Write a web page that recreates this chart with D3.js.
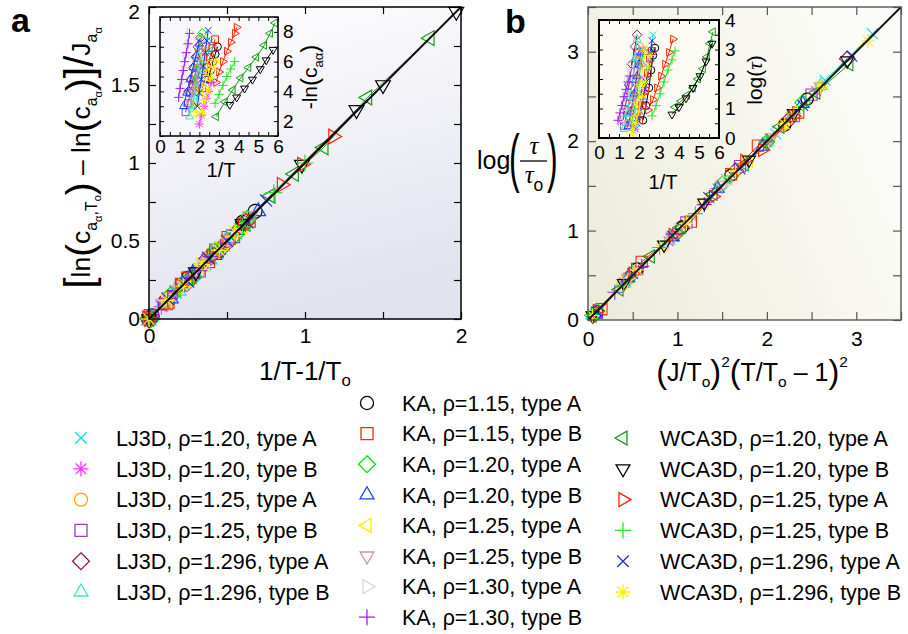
<!DOCTYPE html>
<html>
<head>
<meta charset="utf-8">
<script src="https://cdn.jsdelivr.net/npm/d3@7/dist/d3.min.js"></script>
<style>
  body { margin: 0; background: #fff; }
  svg { display: block; }
  text { font-family: "Liberation Sans", Arial, Helvetica, sans-serif; }
</style>
</head>
<body>
<svg id="fig" width="908" height="634"></svg>
<script>
// ---- series definitions -------------------------------------------------
const seriesNames = [
  "LJ3D, ρ=1.20, type A", "LJ3D, ρ=1.20, type B", "LJ3D, ρ=1.25, type A",
  "LJ3D, ρ=1.25, type B", "LJ3D, ρ=1.296, type A", "LJ3D, ρ=1.296, type B",
  "KA, ρ=1.15, type A", "KA, ρ=1.15, type B", "KA, ρ=1.20, type A",
  "KA, ρ=1.20, type B", "KA, ρ=1.25, type A", "KA, ρ=1.25, type B",
  "KA, ρ=1.30, type A", "KA, ρ=1.30, type B",
  "WCA3D, ρ=1.20, type A", "WCA3D, ρ=1.20, type B", "WCA3D, ρ=1.25, type A",
  "WCA3D, ρ=1.25, type B", "WCA3D, ρ=1.296, type A", "WCA3D, ρ=1.296, type B"
];
const seriesColors = [
  "#00e0e8", "#ff33ff", "#ffa500", "#9040c8", "#8b1c62", "#40e0d0",
  "#000000", "#ff2a00", "#00e600", "#1f3cff", "#ffec00", "#c49a9a",
  "#d8d8d8", "#a020f0",
  "#1a9a1a", "#000000", "#ff2200", "#22e622", "#2030e0", "#ffec00"
];
const seriesSymbols = [
  "x", "asterisk", "circle", "square", "diamond", "triUp",
  "circle", "square", "diamond", "triUp", "triLeft", "triDown",
  "triRight", "plus",
  "triLeft", "triDown", "triRight", "plus", "x", "asterisk"
];
const legendColumns = [
  [0, 1, 2, 3, 4, 5],
  [6, 7, 8, 9, 10, 11, 12, 13],
  [14, 15, 16, 17, 18, 19]
];

// ---- panel a inset: [1/T, -ln(c)] -----------------------------------------
const cInset = [
  [[1.75,2.8],[1.9,3.6],[2.05,4.4],[2.2,5.2],[2.35,6.0],[2.5,6.8],[2.6,7.4]],
  [[2.0,1.8],[2.12,2.4],[2.24,3.0],[2.36,3.5],[2.48,4.0],[2.6,4.6]],
  [[1.55,3.2],[1.7,4.0],[1.85,4.8],[2.0,5.6],[2.15,6.3],[2.3,7.0]],
  [[1.3,2.6],[1.42,3.2],[1.54,3.9],[1.66,4.5],[1.78,5.1],[1.9,5.8]],
  [[1.45,4.0],[1.57,4.8],[1.69,5.6],[1.81,6.3],[1.93,7.0],[2.05,7.6]],
  [[1.5,2.3],[1.62,3.0],[1.74,3.7],[1.86,4.4],[1.98,5.1],[2.1,5.7]],
  [[2.45,4.8],[2.57,5.4],[2.69,6.0],[2.81,6.5],[2.93,7.0]],
  [[2.15,4.2],[2.28,4.9],[2.41,5.6],[2.54,6.3],[2.67,6.9],[2.8,7.5]],
  [[1.7,4.4],[1.8,5.2],[1.9,6.0],[2.0,6.8],[2.1,7.5],[2.15,7.9]],
  [[1.2,3.0],[1.36,3.9],[1.52,4.8],[1.68,5.6],[1.84,6.4],[2.0,7.2]],
  [[1.75,2.5],[1.9,3.2],[2.05,3.9],[2.2,4.6],[2.35,5.3],[2.5,5.9]],
  [[1.55,3.2],[1.68,4.0],[1.81,4.8],[1.94,5.6],[2.07,6.4],[2.2,7.1]],
  [[1.1,4.6],[1.2,5.5],[1.3,6.4],[1.4,7.2],[1.5,8.0]],
  [[0.95,3.6],[1.02,4.2],[1.1,4.8],[1.18,5.4],[1.26,6.0],[1.34,6.6],[1.42,7.2],[1.5,7.9]],
  [[2.85,2.3],[3.3,3.3],[3.7,4.1],[4.1,4.9],[4.5,5.6],[4.9,6.3],[5.3,7.1],[5.6,7.9],[5.85,8.6]],
  [[3.55,3.1],[3.9,3.6],[4.3,4.2],[4.7,4.8],[5.1,5.5],[5.4,6.1],[5.75,6.8]],
  [[2.85,4.6],[3.0,5.3],[3.2,6.0],[3.4,6.7],[3.6,7.3],[3.8,7.9],[3.9,8.3]],
  [[2.8,3.2],[3.0,3.8],[3.2,4.4],[3.4,5.0],[3.6,5.5],[3.8,6.0]],
  [[1.9,3.0],[2.0,3.9],[2.1,4.8],[2.2,5.7],[2.3,6.6],[2.38,7.4],[2.45,8.1]],
  [[2.15,2.6],[2.3,3.4],[2.45,4.1],[2.6,4.9],[2.75,5.6],[2.85,6.1]]
];

// ---- panel a main: [1/T - 1/To, scaled concentration] --------------------
const cScaled = [
  [[0,0],[0.08,0.09],[0.17,0.17],[0.26,0.27],[0.36,0.35],[0.46,0.46],[0.56,0.55]],
  [[0,0.01],[0.08,0.08],[0.17,0.18],[0.27,0.26],[0.37,0.38],[0.48,0.47]],
  [[0,0],[0.1,0.1],[0.2,0.21],[0.31,0.3],[0.42,0.43],[0.53,0.52]],
  [[0.01,0.02],[0.11,0.1],[0.21,0.22],[0.32,0.31],[0.43,0.44],[0.54,0.53]],
  [[0,0],[0.12,0.13],[0.25,0.24],[0.37,0.38],[0.5,0.49],[0.62,0.62]],
  [[0,-0.01],[0.09,0.1],[0.19,0.18],[0.29,0.3],[0.39,0.38],[0.49,0.5]],
  [[0.02,0.02],[0.25,0.26],[0.45,0.44],[0.6,0.62],[0.68,0.69]],
  [[0,0.01],[0.12,0.11],[0.25,0.26],[0.38,0.37],[0.51,0.52],[0.64,0.63]],
  [[0.01,0],[0.14,0.15],[0.28,0.27],[0.42,0.43],[0.56,0.55],[0.63,0.64]],
  [[0,0.01],[0.14,0.13],[0.28,0.29],[0.42,0.41],[0.56,0.57],[0.7,0.69]],
  [[0,0],[0.12,0.12],[0.24,0.25],[0.36,0.35],[0.48,0.49],[0.6,0.59]],
  [[0.01,0.01],[0.13,0.14],[0.26,0.25],[0.39,0.4],[0.52,0.51],[0.65,0.66]],
  [[0,0],[0.11,0.12],[0.22,0.21],[0.33,0.34],[0.44,0.43]],
  [[0,0.01],[0.06,0.06],[0.12,0.13],[0.18,0.18],[0.25,0.26],[0.32,0.31],[0.39,0.4],[0.46,0.46]],
  [[0,0],[0.25,0.26],[0.45,0.44],[0.62,0.61],[0.78,0.79],[0.93,0.93],[1.12,1.1],[1.4,1.42],[1.8,1.8]],
  [[0,0],[0.3,0.3],[0.6,0.61],[0.98,0.99],[1.33,1.34],[1.5,1.5],[1.97,1.97]],
  [[0,0],[0.2,0.21],[0.4,0.4],[0.6,0.6],[0.85,0.86],[0.98,0.99],[1.18,1.17]],
  [[0,0],[0.2,0.19],[0.4,0.41],[0.6,0.59],[0.8,0.81],[1.0,1.0]],
  [[0,0],[0.12,0.13],[0.25,0.24],[0.38,0.39],[0.5,0.5],[0.63,0.62],[0.75,0.76]],
  [[0,0],[0.11,0.12],[0.22,0.21],[0.34,0.35],[0.45,0.44],[0.55,0.56]]
];

// ---- panel b inset: [1/T, log(tau)] ---------------------------------------
const tauInset = [
  [[1.85,0.3],[2.0,0.75],[2.15,1.25],[2.3,1.8],[2.45,2.35],[2.6,2.95],[2.7,3.5]],
  [[1.8,0.3],[1.95,0.7],[2.1,1.15],[2.25,1.6],[2.4,2.1],[2.55,2.6]],
  [[1.55,0.5],[1.65,0.95],[1.75,1.45],[1.85,2.0],[1.95,2.6],[2.05,3.1]],
  [[1.25,0.4],[1.4,0.9],[1.55,1.4],[1.7,2.0],[1.8,2.5],[1.9,2.9]],
  [[1.2,0.6],[1.35,1.2],[1.5,1.8],[1.65,2.5],[1.8,3.1],[1.9,3.5]],
  [[1.25,0.3],[1.4,0.8],[1.55,1.4],[1.68,2.0],[1.8,2.7],[1.9,3.35]],
  [[2.2,0.6],[2.35,1.1],[2.5,1.7],[2.6,2.3],[2.7,2.8],[2.8,3.05]],
  [[2.0,0.6],[2.15,1.1],[2.3,1.6],[2.45,2.2],[2.55,2.7],[2.65,2.95]],
  [[1.6,0.4],[1.75,0.9],[1.9,1.5],[2.0,2.0],[2.1,2.5],[2.2,2.9]],
  [[1.45,0.4],[1.6,0.9],[1.75,1.5],[1.9,2.1],[2.0,2.5],[2.1,2.9]],
  [[1.6,0.2],[1.75,0.7],[1.9,1.2],[2.05,1.8],[2.2,2.4],[2.3,3.0]],
  [[1.5,0.4],[1.65,0.9],[1.8,1.4],[1.95,2.0],[2.05,2.5],[2.15,3.0]],
  [[1.1,0.5],[1.2,1.0],[1.3,1.5],[1.4,2.0],[1.5,2.4]],
  [[0.95,0.6],[1.05,0.85],[1.15,1.1],[1.25,1.4],[1.35,1.65],[1.45,1.9],[1.55,2.1]],
  [[3.8,1.05],[4.1,1.25],[4.4,1.45],[4.7,1.7],[4.95,2.0],[5.2,2.35],[5.4,2.75],[5.55,3.2],[5.7,3.6]],
  [[3.65,0.8],[4.0,1.05],[4.35,1.35],[4.7,1.7],[5.05,2.1],[5.35,2.6],[5.65,3.2]],
  [[2.45,0.95],[2.7,1.3],[2.9,1.7],[3.1,2.1],[3.3,2.5],[3.5,2.9],[3.7,3.35]],
  [[2.65,0.75],[2.85,1.1],[3.05,1.5],[3.25,1.9],[3.45,2.3],[3.65,2.65],[3.8,2.95]],
  [[1.9,0.5],[2.05,0.9],[2.2,1.4],[2.35,1.9],[2.45,2.4],[2.55,2.9],[2.65,3.3]],
  [[1.7,0.15],[1.85,0.5],[2.0,0.9],[2.15,1.4],[2.3,1.9],[2.45,2.4],[2.55,2.8]]
];

// ---- panel b main: [(J/To)^2 (T/To - 1)^2, log(tau/tau_o)] ----------------
const tauScaled = [
  [[0.05,0.06],[0.45,0.47],[0.95,0.93],[1.55,1.57],[2.1,2.08],[2.65,2.68],[3.18,3.2]],
  [[0.05,0.05],[0.4,0.42],[0.9,0.88],[1.45,1.47],[2.0,1.99],[2.55,2.56]],
  [[0.06,0.05],[0.45,0.47],[1.0,0.98],[1.6,1.62],[2.2,2.2],[2.45,2.47]],
  [[0.1,0.08],[0.55,0.57],[1.1,1.09],[1.7,1.72],[2.3,2.28],[2.5,2.52]],
  [[0.07,0.06],[0.5,0.52],[1.05,1.03],[1.65,1.67],[2.25,2.24],[2.9,2.92]],
  [[0.05,0.05],[0.4,0.41],[0.9,0.89],[1.45,1.47],[2.0,1.99],[2.6,2.62]],
  [[0.1,0.09],[0.55,0.57],[1.05,1.04],[1.6,1.62],[2.2,2.18],[2.45,2.47]],
  [[0.15,0.12],[0.6,0.65],[1.15,1.1],[1.6,1.63],[1.9,1.95],[2.35,2.32]],
  [[0.1,0.1],[0.5,0.52],[1.0,0.98],[1.5,1.52],[2.0,1.99],[2.4,2.43]],
  [[0.08,0.08],[0.45,0.47],[0.95,0.93],[1.45,1.47],[1.95,1.94],[2.4,2.42]],
  [[0.05,0.06],[0.4,0.42],[0.85,0.84],[1.3,1.32],[1.8,1.78],[2.3,2.32]],
  [[0.06,0.05],[0.45,0.46],[0.95,0.94],[1.5,1.51],[2.05,2.04],[2.6,2.61]],
  [[0.05,0.05],[0.5,0.5],[1.0,1.01],[1.55,1.54],[2.1,2.11]],
  [[0.05,0.05],[0.3,0.31],[0.6,0.6],[0.95,0.96],[1.3,1.29],[1.65,1.66],[2.0,2.0]],
  [[0.05,0.05],[0.35,0.34],[0.7,0.71],[1.05,1.04],[1.4,1.41],[1.75,1.74],[2.15,2.16],[2.55,2.54],[2.92,2.86]],
  [[0.05,0.05],[0.4,0.41],[0.85,0.84],[1.3,1.31],[1.8,1.79],[2.3,2.31],[2.9,2.9]],
  [[0.1,0.1],[0.5,0.52],[0.95,0.95],[1.4,1.38],[1.75,1.78],[1.95,1.9],[2.3,2.28]],
  [[0.05,0.06],[0.4,0.39],[0.8,0.81],[1.2,1.19],[1.6,1.61],[2.0,1.99],[2.3,2.31]],
  [[0.1,0.09],[0.5,0.52],[0.95,0.94],[1.35,1.37],[1.7,1.69],[2.4,2.4],[2.95,2.95]],
  [[0.05,0.05],[0.55,0.56],[1.1,1.08],[1.65,1.66],[2.2,2.19],[2.6,2.61],[3.13,3.12]]
];

// master-curve (y = x) extents
const diagonalA = [0, 2];
const diagonalB = [0, 3.5];

// tick values
const ticksA_y = [0, 0.5, 1, 1.5, 2];
const ticksA_x = [0, 1, 2];
const ticksB = [0, 1, 2, 3];
const insetTicksX = [0, 1, 2, 3, 4, 5, 6];
const insetA_yTicks = [2, 4, 6, 8];
const insetB_yTicks = [0, 1, 2, 3, 4];

// ---- helpers -----------------------------------------------------------
const svg = d3.select("#fig");
const defs = svg.append("defs");

function markerPath(type, r) {
  const p = d3.path();
  const tri = (deg) => {
    const a0 = deg * Math.PI / 180;
    for (let k = 0; k < 3; k++) {
      const a = a0 + k * 2 * Math.PI / 3;
      const px = r * Math.cos(a), py = r * Math.sin(a);
      k === 0 ? p.moveTo(px, py) : p.lineTo(px, py);
    }
    p.closePath();
  };
  switch (type) {
    case "circle": { const c = r * 0.82; p.moveTo(c, 0); p.arc(0, 0, c, 0, 2 * Math.PI); break; }
    case "square": { const s = r * 0.75; p.rect(-s, -s, 2 * s, 2 * s); break; }
    case "diamond": { const d = r * 1.05; p.moveTo(0, -d); p.lineTo(d, 0); p.lineTo(0, d); p.lineTo(-d, 0); p.closePath(); break; }
    case "triUp": tri(-90); break;
    case "triDown": tri(90); break;
    case "triLeft": tri(180); break;
    case "triRight": tri(0); break;
    case "plus": p.moveTo(-r, 0); p.lineTo(r, 0); p.moveTo(0, -r); p.lineTo(0, r); break;
    case "x": { const q = r * 0.72; p.moveTo(-q, -q); p.lineTo(q, q); p.moveTo(-q, q); p.lineTo(q, -q); break; }
    case "asterisk": {
      const q = r * 0.95, d = q * 0.7;
      p.moveTo(-q, 0); p.lineTo(q, 0); p.moveTo(0, -q); p.lineTo(0, q);
      p.moveTo(-d, -d); p.lineTo(d, d); p.moveTo(-d, d); p.lineTo(d, -d); break;
    }
  }
  return p.toString();
}

// rich text: segments [text, scale, baseline offset in em (down positive), italic?]
function rich(textSel, segs, base) {
  let cur = 0;
  segs.forEach(([t, s, o, it]) => {
    const ts = textSel.append("tspan")
      .attr("font-size", base * s)
      .attr("dy", ((o - cur) * base).toFixed(2))
      .text(t);
    if (it) ts.attr("font-style", "italic").attr("font-family", "'Liberation Serif', 'DejaVu Serif', serif");
    cur = o;
  });
  return textSel;
}

function tickMarks(g, axis, transform, values, len, color, width) {
  const a = g.append("g").attr("transform", transform)
    .call(axis.tickValues(values).tickSizeInner(-len).tickSizeOuter(0).tickFormat(""));
  a.select(".domain").remove();
  a.selectAll("text").remove();
  a.selectAll("line").attr("stroke", color).attr("stroke-width", width);
}

function tickLabels(g, axis, transform, values, fmt, pad, fs) {
  const a = g.append("g").attr("transform", transform)
    .call(axis.tickValues(values).tickSize(0).tickPadding(pad).tickFormat(fmt));
  a.select(".domain").remove();
  a.attr("font-family", null).attr("font-size", fs);
  a.selectAll("text").attr("fill", "#000");
  return a;
}

function range(a, b, step) {
  return d3.range(Math.round((b - a) / step) + 1).map(i => +(a + i * step).toFixed(6));
}

function frame(g, x, y, opt) {
  const [x0, x1] = x.range(), [y0, y1] = y.range();
  g.append("rect").attr("x", x0).attr("y", y1).attr("width", x1 - x0).attr("height", y0 - y1)
    .attr("fill", opt.fill);
  const xt = range(x.domain()[0], x.domain()[1], opt.xStep);
  const yt = range(y.domain()[0], y.domain()[1], opt.yStep);
  tickMarks(g, d3.axisBottom(x), `translate(0,${y0})`, xt, opt.tick, opt.color, opt.tickW);
  tickMarks(g, d3.axisTop(x), `translate(0,${y1})`, xt, opt.tick, opt.color, opt.tickW);
  tickMarks(g, d3.axisLeft(y), `translate(${x0},0)`, yt, opt.tick, opt.color, opt.tickW);
  tickMarks(g, d3.axisRight(y), `translate(${x1},0)`, yt, opt.tick, opt.color, opt.tickW);
}

function border(g, x, y, color, w) {
  const [x0, x1] = x.range(), [y0, y1] = y.range();
  g.append("rect").attr("x", x0).attr("y", y1).attr("width", x1 - x0).attr("height", y0 - y1)
    .attr("fill", "none").attr("stroke", color).attr("stroke-width", w);
}

function drawSeries(g, x, y, data, r, lineW, markW) {
  const line = d3.line().x(d => x(d[0])).y(d => y(d[1]));
  data.forEach((pts, i) => {
    g.append("path").datum(pts).attr("d", line)
      .attr("fill", "none").attr("stroke", seriesColors[i]).attr("stroke-width", lineW);
    g.append("g").selectAll("path").data(pts).join("path")
      .attr("transform", d => `translate(${x(d[0])},${y(d[1])})`)
      .attr("d", markerPath(seriesSymbols[i], r))
      .attr("fill", "none").attr("stroke", seriesColors[i]).attr("stroke-width", markW);
  });
}

function diagonal(g, x, y, ext, color, w) {
  g.append("path").datum(ext.map(v => [v, v]))
    .attr("d", d3.line().x(d => x(d[0])).y(d => y(d[1])))
    .attr("fill", "none").attr("stroke", color).attr("stroke-width", w);
}

// ---- gradients ---------------------------------------------------------
const gA = defs.append("linearGradient").attr("id", "bgA")
  .attr("x1", 0).attr("y1", 0).attr("x2", 0.25).attr("y2", 1);
gA.append("stop").attr("offset", 0).attr("stop-color", "#ffffff");
gA.append("stop").attr("offset", 1).attr("stop-color", "#e3e3ef");
const gB = defs.append("linearGradient").attr("id", "bgB")
  .attr("x1", 1).attr("y1", 0.6).attr("x2", 0).attr("y2", 1);
gB.append("stop").attr("offset", 0).attr("stop-color", "#fbfbf7");
gB.append("stop").attr("offset", 1).attr("stop-color", "#ecebda");

// ======================= PANEL A ========================================
const xA = d3.scaleLinear().domain([0, 2]).range([149, 461]);
const yA = d3.scaleLinear().domain([0, 2]).range([319, 7]);
const pA = svg.append("g");
frame(pA, xA, yA, { fill: "url(#bgA)", xStep: 0.5, yStep: 0.25, tick: 7, color: "#000", tickW: 1.2 });
drawSeries(pA, xA, yA, cScaled, 8.5, 1, 1.2);
diagonal(pA, xA, yA, diagonalA, "#000", 1.8);
border(pA, xA, yA, "#000", 1.5);
const yLabsA = tickLabels(pA, d3.axisLeft(yA), `translate(149,0)`, ticksA_y, d => d3.format("")(d), 9, 21);
// keep the topmost label inside the figure
yLabsA.selectAll(".tick").filter(d => d === 2).select("text").attr("dy", "0.55em");
tickLabels(pA, d3.axisBottom(xA), `translate(0,319)`, ticksA_x, d => d, 9, 21);

// inset of panel a
const xAi = d3.scaleLinear().domain([0, 6]).range([160, 278]);
const yAi = d3.scaleLinear().domain([1, 9]).range([136, 17]);
const iA = svg.append("g");
frame(iA, xAi, yAi, { fill: "#f8f8fc", xStep: 0.5, yStep: 1, tick: 4, color: "#000", tickW: 1 });
drawSeries(iA, xAi, yAi, cInset, 4.6, 1, 1);
border(iA, xAi, yAi, "#000", 1.5);
tickLabels(iA, d3.axisRight(yAi), `translate(278,0)`, insetA_yTicks, d => d, 5, 19);
tickLabels(iA, d3.axisBottom(xAi), `translate(0,136)`, insetTicksX, d => d, 4, 19);
iA.append("text").attr("x", 221).attr("y", 177).attr("text-anchor", "middle")
  .attr("font-size", 20).text("1/T");
rich(iA.append("text").attr("transform", "translate(317,77) rotate(-90)").attr("text-anchor", "middle"),
  [["-ln", 1, 0], ["(", 1.15, 0.04], ["c", 1, 0], ["aα", 0.62, 0.28], [")", 1.15, 0.04]], 21);

// axis titles of panel a
rich(svg.append("text").attr("x", 305).attr("y", 380).attr("text-anchor", "middle"),
  [["1/T-1/T", 1, 0], ["o", 0.65, 0.22]], 26);
rich(svg.append("text").attr("transform", "translate(90,158) rotate(-90)").attr("text-anchor", "middle"),
  [["[", 1.55, 0.12], ["ln", 1, 0], ["(", 1.45, 0.1], ["c", 1, 0], ["a", 0.6, 0.28], ["α", 0.42, 0.45],
   [",", 0.6, 0.28], ["T", 0.6, 0.28], ["o", 0.42, 0.42], [")", 1.45, 0.1], [" – ln", 1, 0],
   ["(", 1.45, 0.1], ["c", 1, 0], ["a", 0.6, 0.28], ["α", 0.42, 0.45], [")", 1.45, 0.1],
   ["]", 1.55, 0.12], ["/", 1.5, 0.1], ["J", 1, 0], ["a", 0.6, 0.28], ["α", 0.42, 0.45]], 26.5);
svg.append("text").attr("x", 11).attr("y", 32).attr("font-size", 34).attr("font-weight", "bold").text("a");

// ======================= PANEL B ========================================
const xB = d3.scaleLinear().domain([0, 3.5]).range([588, 901]);
const yB = d3.scaleLinear().domain([0, 3.5]).range([320, 7]);
const pB = svg.append("g");
frame(pB, xB, yB, { fill: "url(#bgB)", xStep: 0.5, yStep: 0.5, tick: 8, color: "#555", tickW: 1.2 });
drawSeries(pB, xB, yB, tauScaled, 7.5, 1, 1.1);
diagonal(pB, xB, yB, diagonalB, "#111", 1.8);
border(pB, xB, yB, "#555", 1.4);
tickLabels(pB, d3.axisLeft(yB), `translate(588,0)`, ticksB, d => d, 9, 21);
tickLabels(pB, d3.axisBottom(xB), `translate(0,320)`, ticksB, d => d, 11, 21);

// inset of panel b
const xBi = d3.scaleLinear().domain([0, 6]).range([599, 719]);
const yBi = d3.scaleLinear().domain([0, 4]).range([138, 20]);
const iB = svg.append("g");
frame(iB, xBi, yBi, { fill: "#fbfbf4", xStep: 0.5, yStep: 0.5, tick: 4, color: "#000", tickW: 1 });
drawSeries(iB, xBi, yBi, tauInset, 4.6, 1, 1);
border(iB, xBi, yBi, "#000", 2);
tickLabels(iB, d3.axisRight(yBi), `translate(719,0)`, insetB_yTicks, d => d, 6, 19);
tickLabels(iB, d3.axisBottom(xBi), `translate(0,138)`, insetTicksX, d => d, 8, 19);
iB.append("text").attr("x", 663).attr("y", 189).attr("text-anchor", "middle")
  .attr("font-size", 20).text("1/T");
rich(iB.append("text").attr("transform", "translate(762,80) rotate(-90)").attr("text-anchor", "middle"),
  [["log(", 1, 0], ["τ", 1, 0, true], [")", 1, 0]], 21);

// axis titles of panel b
rich(svg.append("text").attr("x", 752).attr("y", 381).attr("text-anchor", "middle"),
  [["(", 1.3, 0.07], ["J/T", 1, 0], ["o", 0.62, 0.25], [")", 1.3, 0.07], ["2", 0.62, -0.55],
   ["(", 1.3, 0.07], ["T/T", 1, 0], ["o", 0.62, 0.25], [" – 1", 1, 0], [")", 1.3, 0.07], ["2", 0.62, -0.55]], 25);
const yLabB = svg.append("g");
yLabB.append("text").attr("x", 477).attr("y", 169).attr("font-size", 25).text("log");
yLabB.append("text").attr("transform", "translate(509,180) scale(0.5,1)").attr("font-size", 64).text("(");
yLabB.append("text").attr("transform", "translate(547,180) scale(0.5,1)").attr("font-size", 64).text(")");
rich(yLabB.append("text").attr("x", 534).attr("y", 154).attr("text-anchor", "middle"), [["τ", 1, 0, true]], 25);
yLabB.append("line").attr("x1", 520).attr("x2", 547).attr("y1", 161).attr("y2", 161)
  .attr("stroke", "#000").attr("stroke-width", 1.3);
rich(yLabB.append("text").attr("x", 534).attr("y", 183).attr("text-anchor", "middle"),
  [["τ", 1, 0, true], ["o", 0.7, 0.3]], 25);
svg.append("text").attr("x", 505).attr("y", 33).attr("font-size", 34).attr("font-weight", "bold").text("b");

// ======================= LEGEND =========================================
const legendLayout = [
  { mx: 81, tx: 116, y0: 438, dy: 30.8 },
  { mx: 367, tx: 402, y0: 403, dy: 30.6 },
  { mx: 623, tx: 660, y0: 438, dy: 30.8 }
];
const leg = svg.append("g");
legendColumns.forEach((col, c) => {
  const L = legendLayout[c];
  col.forEach((si, k) => {
    const yy = L.y0 + k * L.dy;
    leg.append("path").attr("transform", `translate(${L.mx},${yy})`)
      .attr("d", markerPath(seriesSymbols[si], 8))
      .attr("fill", "none").attr("stroke", seriesColors[si]).attr("stroke-width", 1.3);
    leg.append("text").attr("x", L.tx).attr("y", yy).attr("dy", "0.36em")
      .attr("font-size", 21.5).attr("fill", "#000").text(seriesNames[si]);
  });
});
</script>
</body>
</html>
